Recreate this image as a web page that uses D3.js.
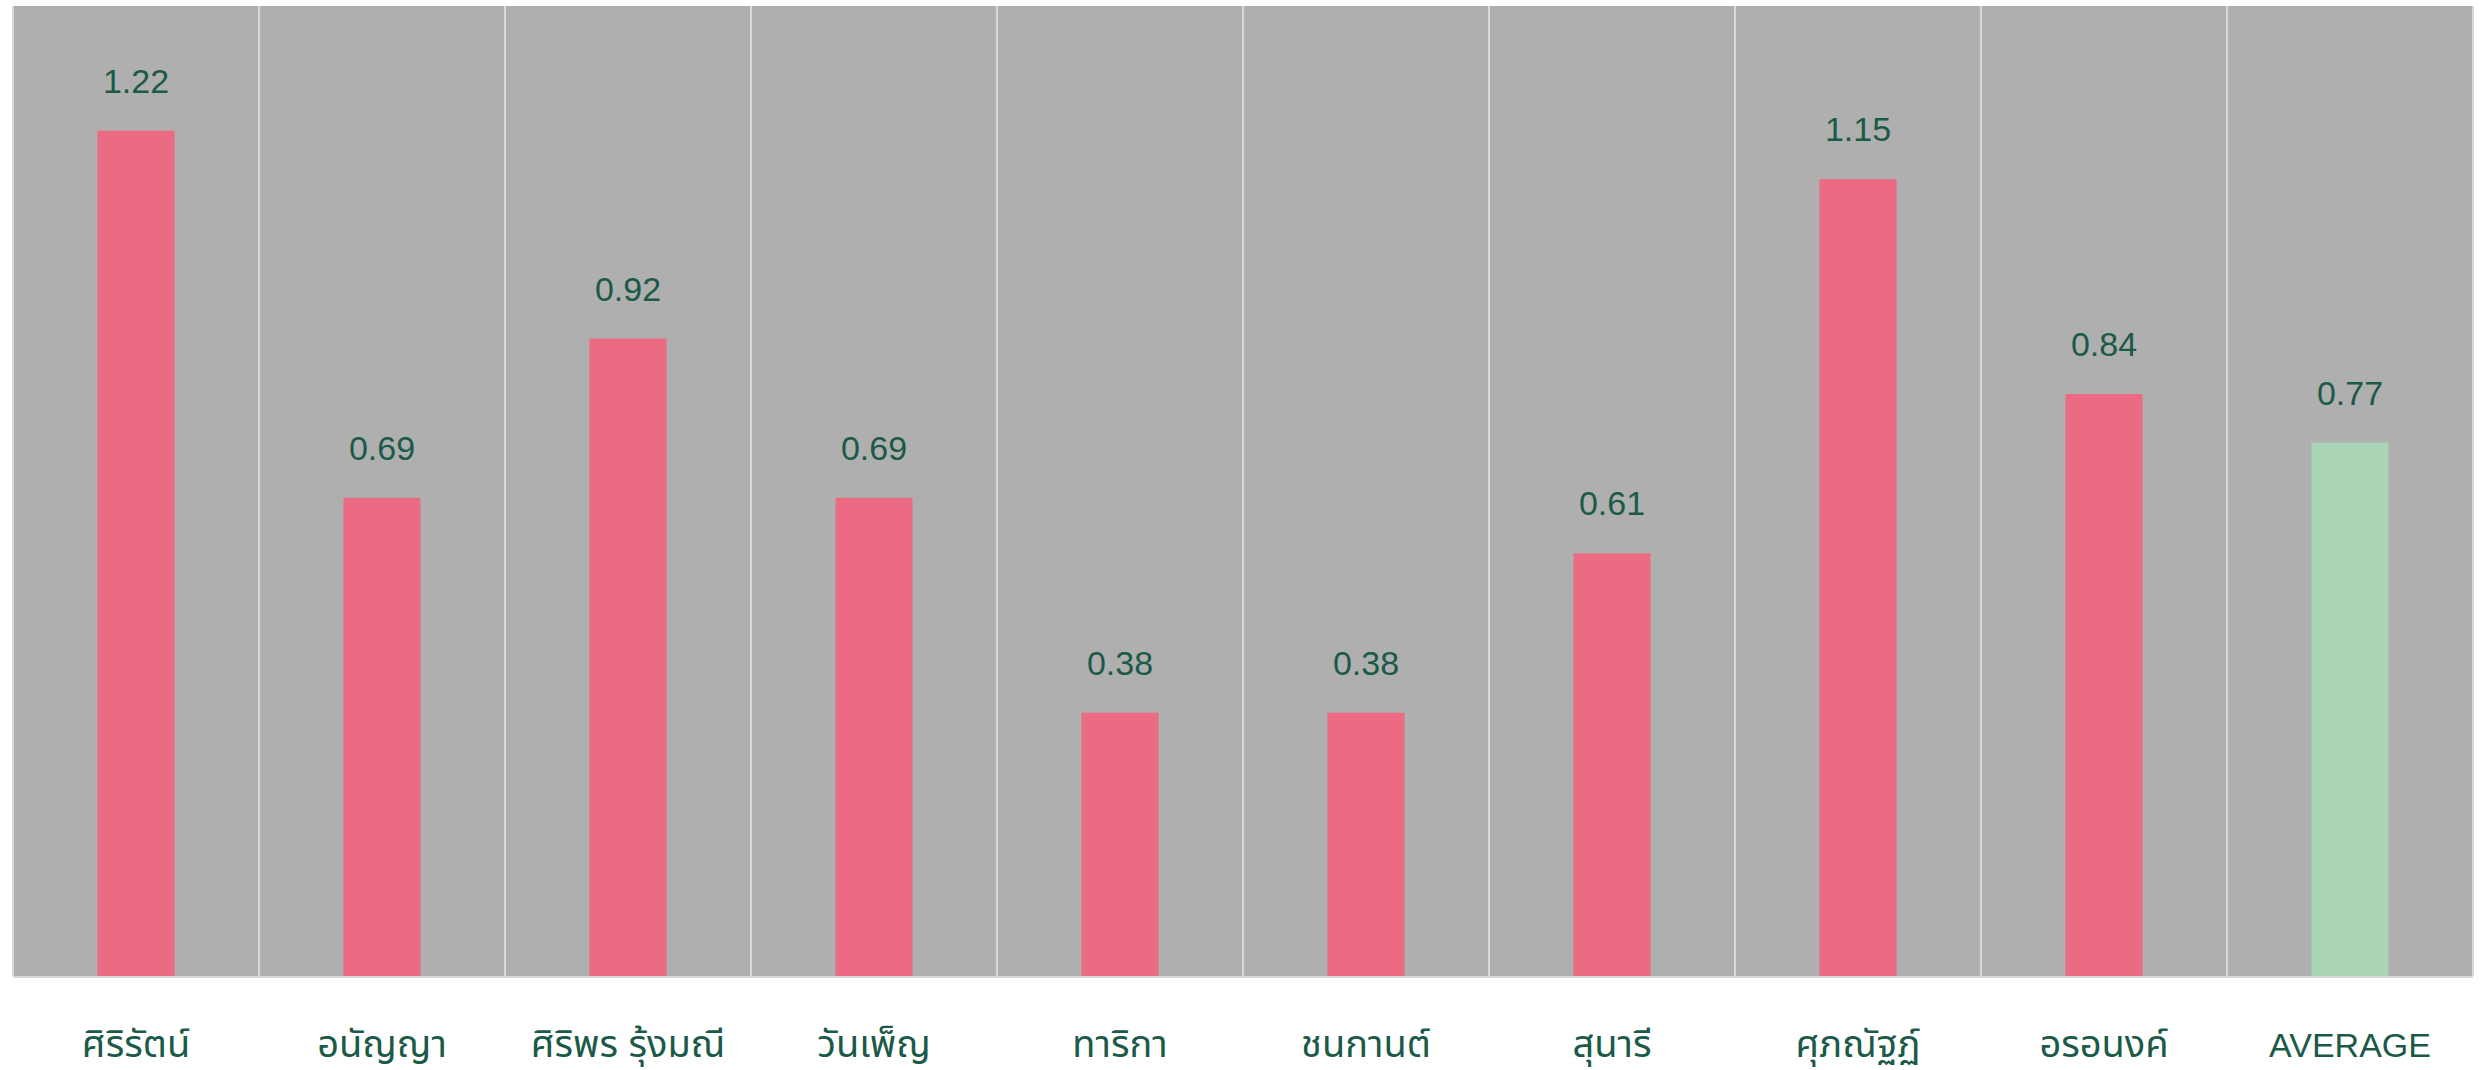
<!DOCTYPE html>
<html>
<head>
<meta charset="utf-8">
<script src="https://cdn.jsdelivr.net/npm/d3@7"></script>
<style>
  html, body { margin: 0; padding: 0; background: #ffffff; }
  svg { display: block; }
  text { font-family: "Liberation Sans", "Noto Sans Thai", "Noto Sans", sans-serif; fill: #1b5a48; }
</style>
</head>
<body>
<svg id="chart" width="2480" height="1070"></svg>
<script>
// Names shown along the bottom axis
const categories = ["ศิริรัตน์", "อนัญญา", "ศิริพร รุ้งมณี", "วันเพ็ญ", "ทาริกา", "ชนกานต์", "สุนารี", "ศุภณัฐฏ์", "อรอนงค์", "AVERAGE"];
// Score for each person; the last one is the group average
const values = [1.22, 0.69, 0.92, 0.69, 0.38, 0.38, 0.61, 1.15, 0.84, 0.77];
const yDomain = [0, 1.4];

const width = 2480, height = 1070;
const margin = { top: 6, right: 7, bottom: 94, left: 13 };
const innerW = width - margin.left - margin.right;
const innerH = height - margin.top - margin.bottom;

const svg = d3.select("#chart");
const g = svg.append("g").attr("transform", `translate(${margin.left},${margin.top})`);

const x = d3.scaleBand().domain(categories).range([0, innerW]).paddingInner(0).paddingOuter(0);
const y = d3.scaleLinear().domain(yDomain).range([innerH, 0]);

// Plot background
g.append("rect")
  .attr("x", 0).attr("y", 0)
  .attr("width", innerW).attr("height", innerH)
  .attr("fill", "#afafaf");

// Vertical separators between categories, plus the outer frame lines
const bounds = categories.map(c => x(c)).concat([innerW]);
g.selectAll("line.sep")
  .data(bounds)
  .join("line")
  .attr("class", "sep")
  .attr("x1", d => d).attr("x2", d => d)
  .attr("y1", 0).attr("y2", innerH)
  .attr("stroke", "#d9d9d9")
  .attr("stroke-width", 2);

g.append("line")
  .attr("x1", 0).attr("x2", innerW)
  .attr("y1", innerH + 1).attr("y2", innerH + 1)
  .attr("stroke", "#d9d9d9")
  .attr("stroke-width", 2);

// Bars
const barW = x.bandwidth() * 0.313;
g.selectAll("rect.bar")
  .data(values)
  .join("rect")
  .attr("class", "bar")
  .attr("x", (d, i) => x(categories[i]) + (x.bandwidth() - barW) / 2)
  .attr("y", d => y(d))
  .attr("width", barW)
  .attr("height", d => innerH - y(d))
  .attr("fill", (d, i) => categories[i] === "AVERAGE" ? "#aad5b7" : "#ec6a82");

// Value labels above bars
g.selectAll("text.val")
  .data(values)
  .join("text")
  .attr("class", "val")
  .attr("x", (d, i) => x(categories[i]) + x.bandwidth() / 2)
  .attr("y", d => y(d) - 38)
  .attr("text-anchor", "middle")
  .style("font-size", "34px")
  .text(d => d.toFixed(2));

// Category axis labels (Thai script set a little larger to match the Latin caps)
const xAxis = d3.axisBottom(x).tickSize(0).tickPadding(0);
const ax = g.append("g")
  .attr("transform", `translate(0,${innerH})`)
  .call(xAxis);
ax.select(".domain").remove();
ax.selectAll("text")
  .attr("dy", null)
  .attr("y", 81)
  .style("font-size", d => /^[A-Z]+$/.test(d) ? "34px" : "38px")
  .style("fill", "#1b5a48")
  .style("font-family", "\"Liberation Sans\", \"Noto Sans Thai\", \"Noto Sans\", sans-serif");
</script>
</body>
</html>
